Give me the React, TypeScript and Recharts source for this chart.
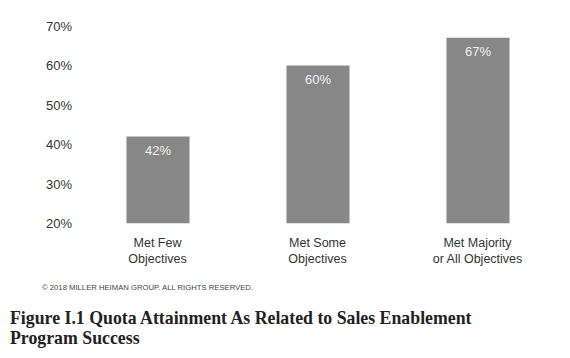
import React from "react";
import { BarChart, Bar, XAxis, YAxis, LabelList } from "recharts";

const categories = ["Met Few\nObjectives", "Met Some\nObjectives", "Met Majority\nor All Objectives"];
const values = [42, 60, 67];
const yTicks = [20, 30, 40, 50, 60, 70];

const data = categories.map((c, i) => ({ name: c, value: values[i] }));

const font = "'Liberation Sans', Arial, Helvetica, sans-serif";

const XTick = (props: any) => {
  const { x, y, payload } = props;
  const lines = String(payload.value).split("\n");
  return (
    <g>
      {lines.map((l: string, i: number) => (
        <text key={i} x={x} y={y + 23 + i * 16} textAnchor="middle" fill="#333" fontSize={12.5} fontFamily={font}>
          {l}
        </text>
      ))}
    </g>
  );
};

export default function App() {
  return (
    <div style={{ position: "absolute", left: 0, top: 0, width: 570, height: 358, background: "#fff" }}>
      <BarChart width={570} height={358} data={data} margin={{ top: 26, right: 12.5, bottom: 104.5, left: 0 }}>
        <XAxis dataKey="name" height={30} axisLine={false} tickLine={false} tickSize={0} tickMargin={0} tick={<XTick />} interval={0} />
        <YAxis
          domain={[20, 70]}
          ticks={yTicks}
          width={77.5}
          axisLine={false}
          tickLine={false}
          tickSize={0}
          tickMargin={5.5}
          tickFormatter={(v: number) => `${v}%`}
          tick={{ fill: "#333", fontSize: 13, fontFamily: font }}
          allowDataOverflow
        />
        <Bar dataKey="value" fill="#878787" barSize={63} isAnimationActive={false}>
          <LabelList
            dataKey="value"
            position="insideTop"
            offset={9}
            formatter={(v: number) => `${v}%`}
            fill="#f2f2f2"
            fontSize={13}
            fontFamily={font}
          />
        </Bar>
      </BarChart>
      <div style={{ position: "absolute", left: 42, top: 283, fontFamily: font, fontSize: 7.7, color: "#444", whiteSpace: "nowrap" }}>
        © 2018 MILLER HEIMAN GROUP. ALL RIGHTS RESERVED.
      </div>
      <div style={{ position: "absolute", left: 10, top: 308, fontFamily: "'Liberation Serif', 'DejaVu Serif', serif", fontWeight: "bold", fontSize: 17.8, lineHeight: "20px", color: "#222", width: 565, whiteSpace: "nowrap" }}>
        Figure I.1 Quota Attainment As Related to Sales Enablement
        <br />
        Program Success
      </div>
    </div>
  );
}
